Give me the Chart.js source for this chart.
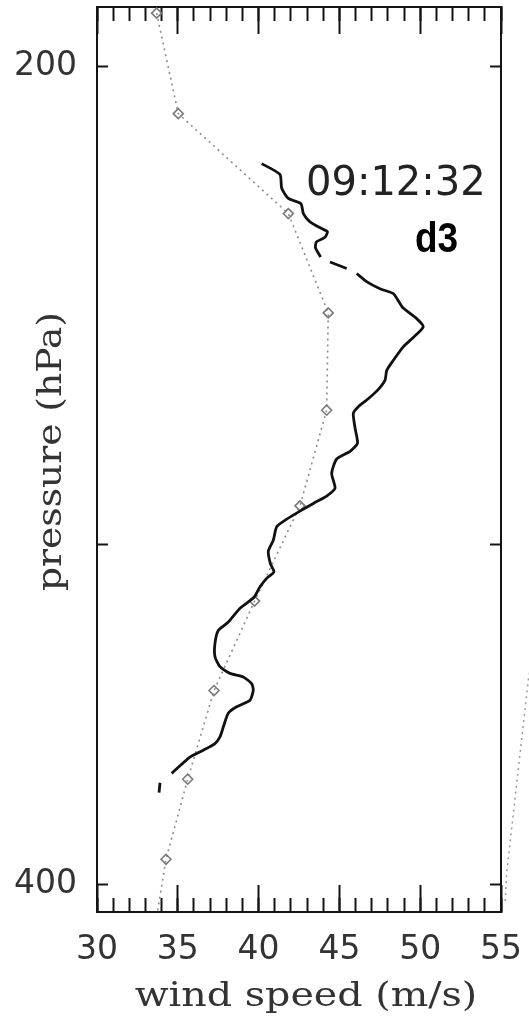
<!DOCTYPE html>
<html>
<head>
<meta charset="utf-8">
<script src="https://cdn.jsdelivr.net/npm/chart.js@4.4.1/dist/chart.umd.min.js"></script>
<style>
  html, body { margin: 0; padding: 0; background: #ffffff; }
  #c { display: block; }
</style>
</head>
<body>
<canvas id="c" width="529" height="1017"></canvas>
<script>
// High-resolution wind speed profile (m/s) against pressure (hPa); null marks a data gap
const profilePressure = [217.2, 219.2, 221.8, 223.7, 224.7, 226.6, 228.2, 229.5, 230.1, 231.2,
  232.1, 233.3, 235.1, 235.6, 236.1, 237.4, 237.9, 238.4, 240.1, 241.5,
  242.5, 243.9, 245.5, 247.7, 249.4, 251.7, 253.7, 256.6, 258.8, 261.0,
  263.4, 265.4, 266.9, 268.4, 271.8, 275.3, 277.2, 279.0, 282.4, 286.0,
  287.9, 289.7, 291.6, 293.6, 295.5, 298.9, 301.7, 305.0, 307.0, 308.7,
  310.9, 313.7, 316.6, 320.4, 322.6, 326.2, 329.9, 332.7, 334.6, 335.6,
  337.5, 339.4, 342.3, 344.2, 346.1, 350.1, 353.1, 355.1, 357.1, 359.2,
  364.2, 365.5, 367.1, 370.2];
const profileWind = [40.19, 41.32, 41.43, 41.84, 42.62, 42.77, 43.18, 43.90, 44.26, 44.11,
  43.58, 43.52, 43.84, null, 44.42, 45.45, null, 46.07, 46.71, 47.51,
  48.34, 48.63, 48.95, 49.78, 50.19, 49.57, 48.95, 48.34, 47.93, 47.82,
  47.31, 46.69, 46.17, 45.86, 45.97, 46.12, 45.66, 44.83, 44.52, 44.73,
  44.21, 43.39, 42.56, 41.74, 41.12, 40.91, 40.60, 40.74, 40.95, 40.50,
  40.09, 39.72, 38.85, 38.11, 37.51, 37.30, 37.30, 37.61, 38.23, 39.05,
  39.57, 39.67, 39.47, 38.64, 38.12, 37.82, 37.61, 37.30, 36.58, 35.75,
  34.62, null, 33.90, 33.84];

// Model-level wind speeds (diamonds on the dotted line)
const levelPressure = [191.2, 208.2, 226.6, 246.5, 267.7, 290.3, 314.7, 339.5, 366.0, 391.7, 418.0];
const levelWind = [33.69, 35.03, 41.84, 44.31, 44.21, 42.56, 39.75, 37.24, 35.61, 34.27, 33.50];

// Dotted profile of the adjacent panel, running just past the right frame
const neighbourPressure = [318.0, 336.5, 396.3, 407.2];
const neighbourWind = [57.40, 56.69, 55.35, 55.25];

// Axis ticks and labels
const windMajorTicks = [30, 35, 40, 45, 50, 55];
const windMinorTicks = [30, 31, 32, 33, 34, 35, 36, 37, 38, 39, 40, 41, 42, 43, 44, 45, 46, 47, 48, 49, 50, 51, 52, 53, 54, 55];
const pressureTicks = [200, 300, 400];
const pressureLabelled = [200, 400];
const windRange = [30, 55];
const pressureRange = [190.2, 409.6];

const xTitle = 'wind speed (m/s)';
const yTitle = 'pressure (hPa)';
const timeStamp = '09:12:32';
const panelTag = 'd3';

const ink = '#141414';
const textInk = '#333333';

const pairs = (xs, ys) => ys.map((y, i) => ({ x: xs[i], y: y }));

const setTicks = (values) => (scale) => { scale.ticks = values.map(v => ({ value: v })); };

// Fix an axis box to an exact size and stop it from reserving label overhang
const fixSize = (key, size) => (s) => {
  s[key] = size;
  s.paddingLeft = 0; s.paddingRight = 0; s.paddingTop = 0; s.paddingBottom = 0;
};

function windAxis(position, values, tickLength, weight, size, showBorder, labels) {
  return {
    type: 'linear', position, min: windRange[0], max: windRange[1], weight,
    afterBuildTicks: setTicks(values),
    afterFit: fixSize('height', size),
    ticks: labels ? {
      display: true, autoSkip: false, maxRotation: 0, padding: 46,
      color: textInk, font: { family: 'DejaVu Sans', size: 33 }
    } : { display: false },
    grid: { display: true, drawOnChartArea: false, drawTicks: true, tickLength, tickWidth: 2, color: ink, tickColor: ink },
    border: { display: showBorder, width: 2, color: ink }
  };
}

function pressureAxis(position, size, labels) {
  return {
    type: 'logarithmic', position, reverse: true, bounds: 'data',
    min: pressureRange[0], max: pressureRange[1],
    afterBuildTicks: setTicks(pressureTicks),
    afterFit: fixSize('width', size),
    ticks: labels ? {
      display: true, autoSkip: false, padding: 31,
      color: textInk, font: { family: 'DejaVu Sans', size: 33 },
      callback: (v) => pressureLabelled.includes(v) ? String(v) : ''
    } : { display: false },
    grid: { display: true, drawOnChartArea: false, drawTicks: true, tickLength: -11, tickWidth: 2, color: ink, tickColor: ink },
    border: { display: true, width: 2, color: ink }
  };
}

// Axis titles and the panel captions
const captions = {
  id: 'captions',
  afterDraw(chart) {
    const { ctx, chartArea: a } = chart;
    ctx.save();
    ctx.fillStyle = textInk;
    ctx.textBaseline = 'alphabetic';
    ctx.textAlign = 'center';
    ctx.font = '33px "DejaVu Serif"';

    ctx.save();
    ctx.translate((a.left + a.right) / 2 + 7, a.bottom + 94);
    ctx.scale(1.2, 1);
    ctx.fillText(xTitle, 0, 0);
    ctx.restore();

    ctx.save();
    ctx.translate(a.left - 36, (a.top + a.bottom) / 2 - 8);
    ctx.rotate(-Math.PI / 2);
    ctx.scale(1.14, 1);
    ctx.fillText(yTitle, 0, 0);
    ctx.restore();

    ctx.textAlign = 'left';
    ctx.fillStyle = '#222222';
    ctx.font = '40px "DejaVu Sans"';
    ctx.fillText(timeStamp, a.left + 209, a.top + 188);

    ctx.save();
    ctx.fillStyle = '#000000';
    ctx.font = 'bold 42px "Liberation Sans"';
    ctx.translate(a.left + 318, a.top + 245);
    ctx.scale(0.88, 1);
    ctx.fillText(panelTag, 0, 0);
    ctx.restore();

    ctx.restore();
  }
};

new Chart(document.getElementById('c'), {
  type: 'scatter',
  data: {
    datasets: [
      {
        label: 'profile',
        data: pairs(profileWind, profilePressure),
        showLine: true, spanGaps: false, tension: 0.2,
        borderColor: '#111111', borderWidth: 2.8,
        pointRadius: 0, pointHoverRadius: 0,
        xAxisID: 'x', yAxisID: 'y'
      },
      {
        label: 'levels',
        data: pairs(levelWind, levelPressure),
        showLine: true, tension: 0,
        borderColor: '#8c8c8c', borderWidth: 1.6, borderDash: [2, 4],
        pointStyle: 'rectRot', pointRadius: 5, pointHoverRadius: 5,
        pointBorderColor: '#7a7a7a', pointBorderWidth: 1.6,
        pointBackgroundColor: 'rgba(255,255,255,0)',
        xAxisID: 'x', yAxisID: 'y'
      },
      {
        label: 'adjacent',
        data: pairs(neighbourWind, neighbourPressure),
        showLine: true, tension: 0, clip: false,
        borderColor: '#9a9a9a', borderWidth: 1.5, borderDash: [2, 4],
        pointRadius: 0, pointHoverRadius: 0,
        xAxisID: 'x', yAxisID: 'y'
      }
    ]
  },
  options: {
    responsive: false,
    animation: false,
    devicePixelRatio: 1,
    layout: { padding: 0 },
    events: [],
    plugins: { legend: { display: false }, tooltip: { enabled: false }, title: { display: false } },
    scales: {
      x: windAxis('bottom', windMajorTicks, -27, 1, 105, true, true),
      xMinor: windAxis('bottom', windMinorTicks, -14, 0, 0, false, false),
      xTop: windAxis('top', windMajorTicks, -27, 1, 7, true, false),
      xTopMinor: windAxis('top', windMinorTicks, -14, 0, 0, false, false),
      y: pressureAxis('left', 97, true),
      yRight: pressureAxis('right', 28, false)
    }
  },
  plugins: [captions]
});
</script>
</body>
</html>
